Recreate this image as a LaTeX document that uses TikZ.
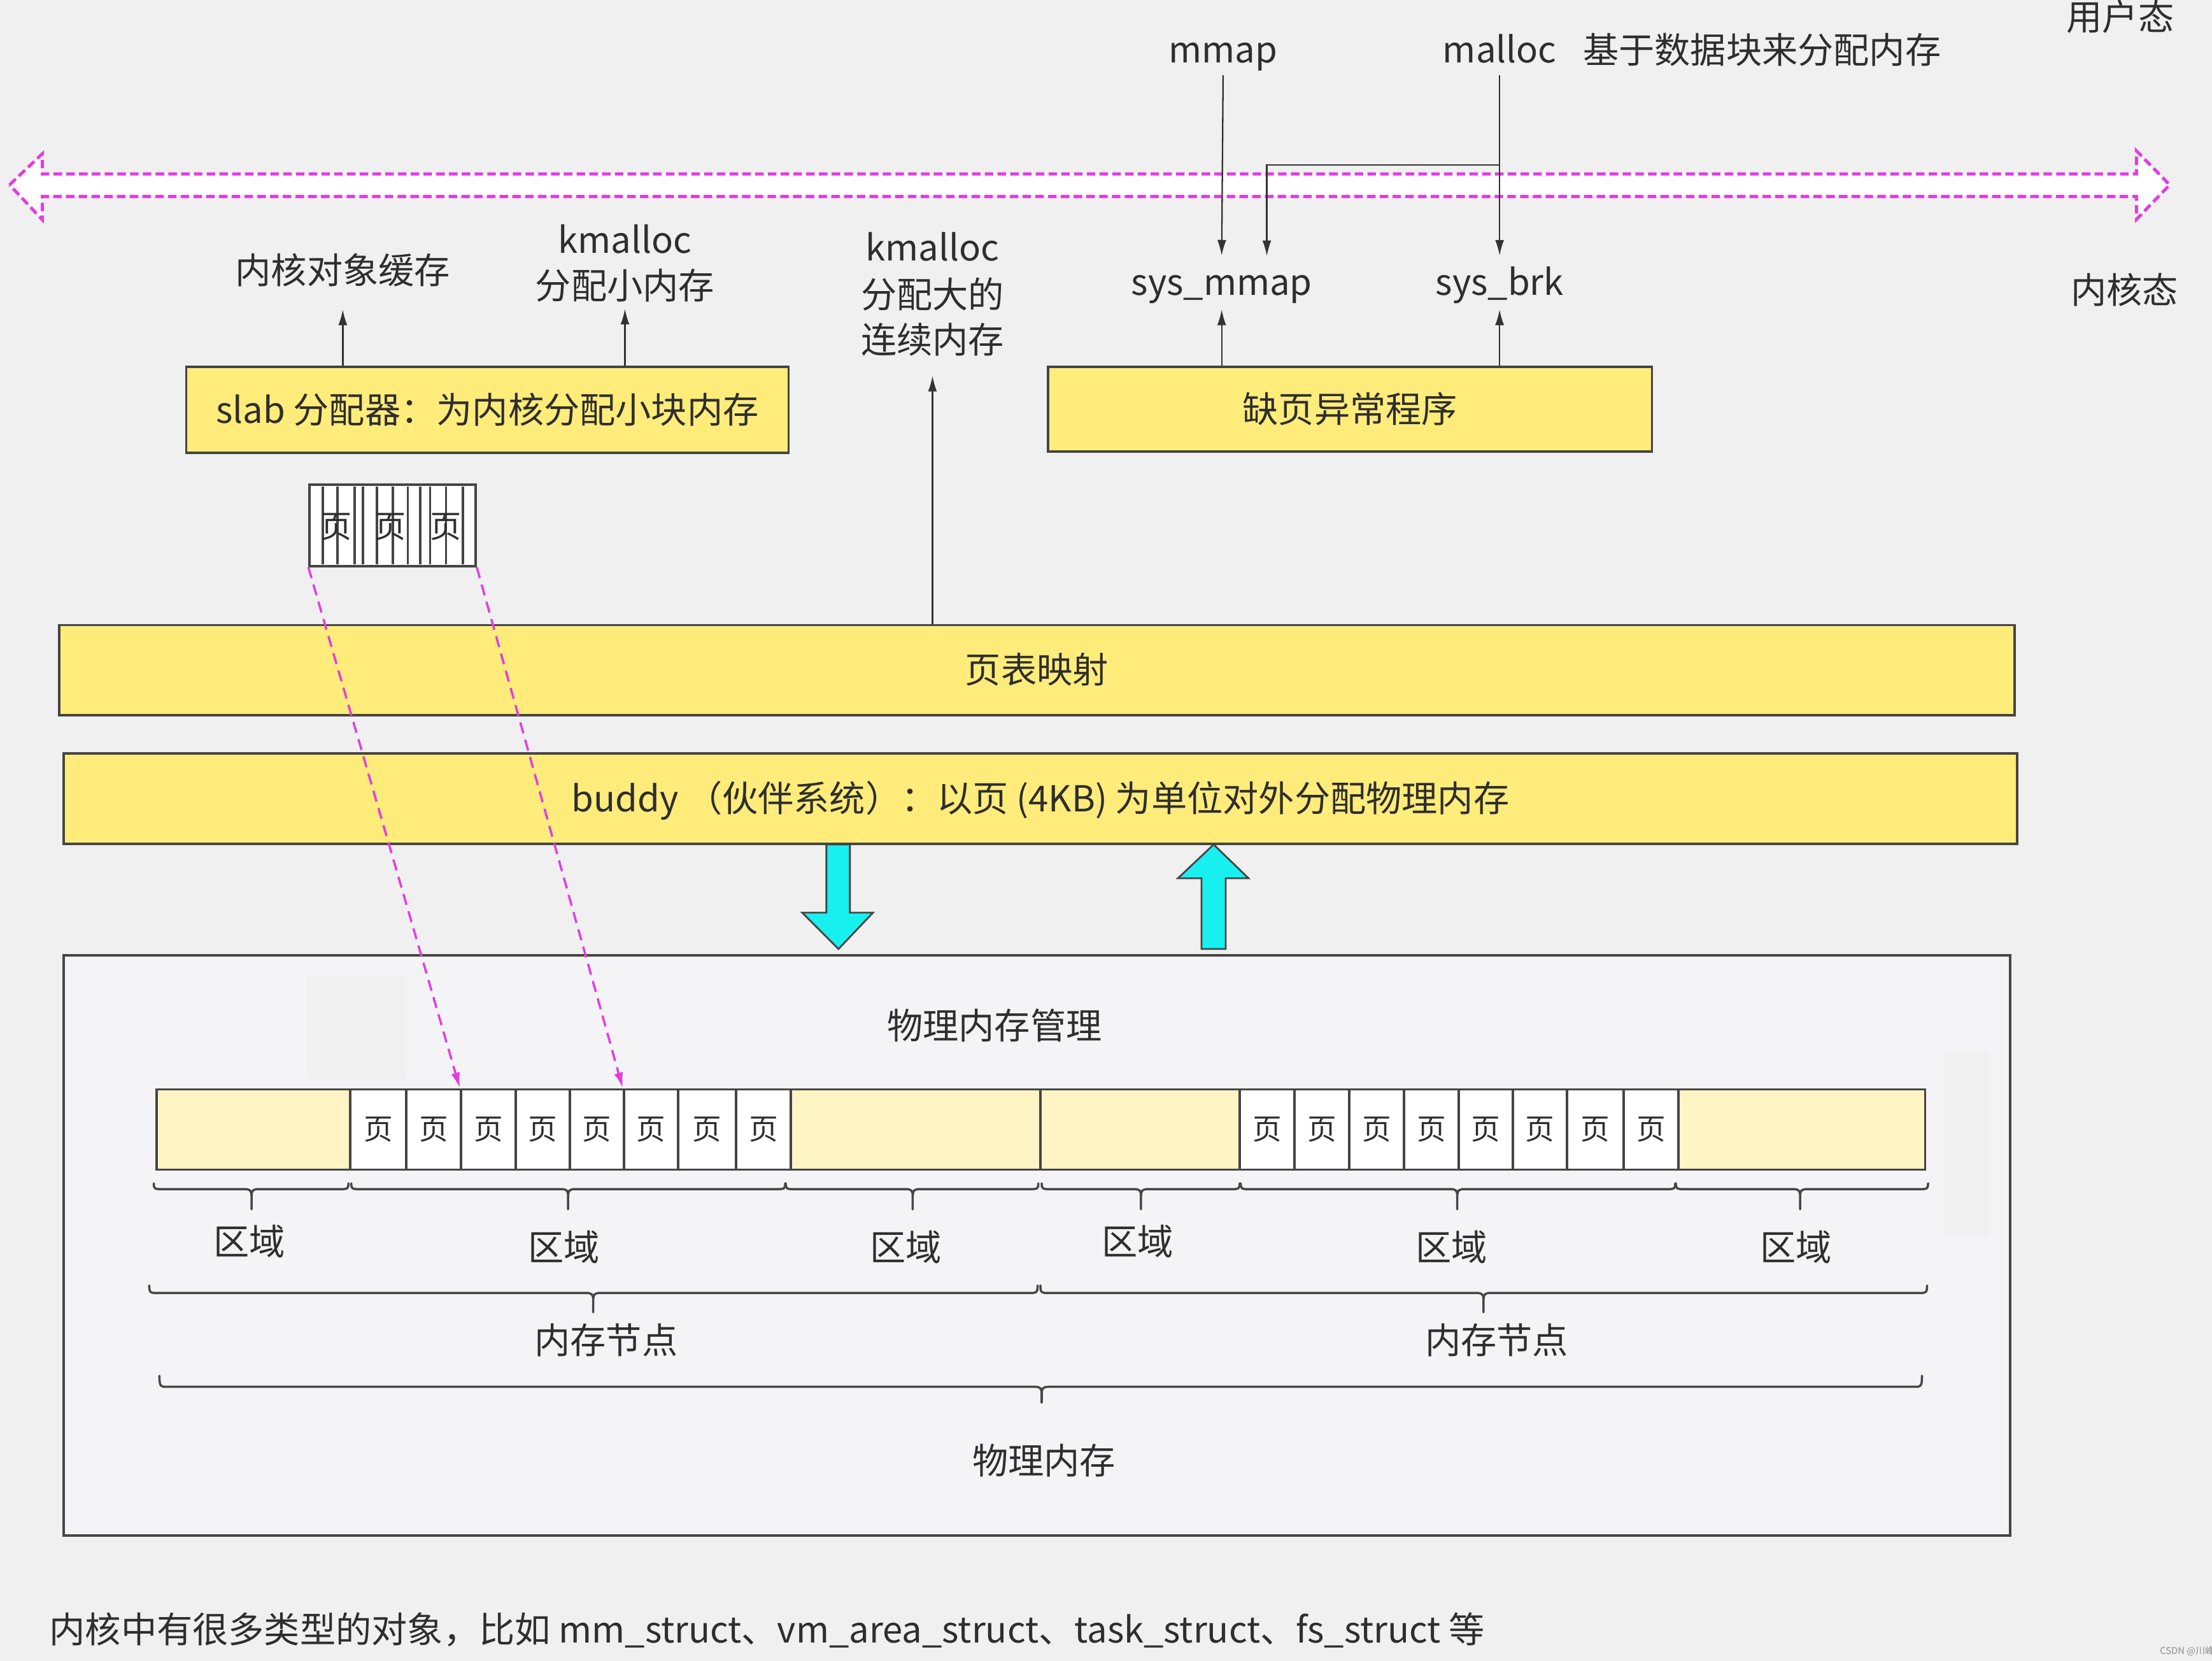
\documentclass[tikz,border=0pt]{standalone}
\usepackage{fontspec}
\setmainfont{Noto Sans CJK SC}
\usetikzlibrary{arrows.meta,calc}
\definecolor{bgc}{HTML}{F0F0F0}
\definecolor{panelc}{HTML}{F4F4F6}
\definecolor{artc}{HTML}{F0F0F1}
\definecolor{yel}{HTML}{FFEC7A}
\definecolor{lyel}{HTML}{FFF5C4}
\definecolor{bd}{HTML}{454545}
\definecolor{tc}{HTML}{2E2E2E}
\definecolor{lc}{HTML}{333333}
\definecolor{mag}{HTML}{E23CE2}
\definecolor{cyn}{HTML}{18F0F0}
\newcommand\mybrace[6]{%
  \draw[brc] (#1,#4) .. controls (#1,#5) and (#1+1,#5) .. (#1+5,#5) -- (#3-5,#5)
     .. controls (#3-1,#5) and (#3,#5+1) .. (#3,#5+5) -- (#3,#6)
     (#3,#5+5) .. controls (#3,#5+1) and (#3+1,#5) .. (#3+5,#5) -- (#2-5,#5)
     .. controls (#2-1,#5) and (#2,#5) .. (#2,#4);}
\begin{document}
\begin{tikzpicture}[x=0.022156cm,y=-0.022156cm,
  txt/.style={inner sep=0pt,text=tc,font=\fontsize{16pt}{19pt}\selectfont,text height=12.8pt,text depth=1.1pt},
  ybox/.style={txt,draw=bd,fill=yel,line width=1.1pt},
  cell/.style={draw=bd,fill=white,line width=1pt,inner sep=0pt,text=tc,font=\fontsize{13pt}{15pt}\selectfont,minimum height={57*0.6304pt}},
  yseg/.style={draw=bd,fill=lyel,line width=1pt,inner sep=0pt,minimum height={57*0.6304pt}},
  conn/.style={draw=lc,line width=0.65pt},
  arr/.style={conn,-{Latex[length=7pt,width=4pt]}},
  marr/.style={draw=mag,line width=1pt,dash pattern=on 5pt off 3pt,-{Latex[length=7pt,width=4pt]}},
  brc/.style={draw=lc!90,line width=1pt,line cap=round},
  bigarrow/.style={fill=cyn,draw=bd,line width=0.8pt,line join=miter}]
\fill[bgc] (0,0) rectangle (1568,1177);
\useasboundingbox (0,0) rectangle (1568,1177);

% user / kernel boundary arrow
\draw[draw=mag,fill=white,line width=1.4pt,dash pattern=on 3.8pt off 1.9pt,line join=miter]
  (6.8,131) -- (30,109) -- (30,123.3) -- (1514.5,123.3) -- (1514.5,107) -- (1538,131)
  -- (1514.5,155.4) -- (1514.5,139.3) -- (30,139.3) -- (30,155.7) -- cycle;

% top labels
\node[txt] (user) at (1503,12) {用户态};
\node[txt] (kern) at (1506,206) {内核态};
\node[txt] (mmap) at (867,35) {mmap};
\node[txt] (malloc) at (1063,35) {malloc};
\node[txt] (mallocd) at (1249,35.5) {基于数据块来分配内存};
\node[txt] (sysmmap) at (866,200) {sys\_mmap};
\node[txt] (sysbrk) at (1063,200) {sys\_brk};

\node[txt] (cache) at (243,192) {内核对象缓存};
\node[txt] (ks1) at (443,170) {kmalloc};
\node[txt] (ks2) at (443,202.5) {分配小内存};
\node[txt] (kb1) at (661,175.5) {kmalloc};
\node[txt] (kb2) at (661,209) {分配大的};
\node[txt] (kb3) at (661,241) {连续内存};

% boxes
\node[ybox,minimum width={427*0.6304pt},minimum height={61*0.6304pt}] (slab) at (345.5,290.5) {slab 分配器：为内核分配小块内存};
\node[ybox,minimum width={428*0.6304pt},minimum height={60*0.6304pt}] (fault) at (957,290) {缺页异常程序};
\node[ybox,minimum width={1386*0.6304pt},minimum height={64*0.6304pt}] (pt) at (735,475) {页表映射};
\node[ybox,minimum width={1385*0.6304pt},minimum height={64*0.6304pt}] (buddy) at (737.5,566) {buddy （伙伴系统）：以页 (4KB) 为单位对外分配物理内存};

% small compressed page box
\node[draw=bd,fill=white,line width=1pt,inner sep=0pt,minimum width={117.8*0.6304pt},minimum height={57.7*0.6304pt}] (sp) at (278.3,372.4) {};
\foreach \xx in {228.8,239.2,251.4,257.3,267.2,278.5,288.9,297.9,304.7,316,328.1}
  \draw[draw=bd,line width=0.9pt] (\xx,345) -- (\xx,400);
\foreach \xx/\nm in {238.3/spa,276.7/spb,316/spc}
  \node[inner sep=0pt,text=tc,font=\fontsize{14pt}{16pt}\selectfont] (\nm) at (\xx,373.5) {页};

% connectors top
\draw[arr] ($(mmap.south)+(0,7)$) -- ($(sysmmap.north)+(0,-7.5)$);
\draw[arr] ($(malloc.south)+(0,7)$) -- ($(sysbrk.north)+(0,-7.5)$);
\coordinate (brA) at (1063,117);
\coordinate (brB) at (898,181.5);
\draw[arr] (brA) -| (brB);
\draw[arr] (fault.north -| sysmmap) -- ($(sysmmap.south)+(0,8)$);
\draw[arr] (fault.north -| sysbrk) -- ($(sysbrk.south)+(0,8)$);
\draw[arr] (slab.north -| cache) -- ($(cache.south)+(0,16)$);
\draw[arr] (slab.north -| ks2) -- ($(ks2.south)+(0,5)$);
\draw[arr] (pt.north -| kb3) -- ($(kb3.south)+(0,14)$);

% physical memory panel
\node[draw=bd,fill=panelc,line width=1.1pt,minimum width={1380*0.6304pt},minimum height={411*0.6304pt}] (panel) at (735,882.5) {};
\fill[artc] (218,692) rectangle (288,765);
\fill[artc] (1378,745) rectangle (1410,875);
\node[txt] (pmm) at (705,727) {物理内存管理};

% cyan arrows
\draw[bigarrow] (585.8,598.5) -- (602.5,598.5) -- (602.5,646.8) -- (618.8,646.8) -- (594.4,672.5) -- (568.7,646.8) -- (585.8,646.8) -- cycle;
\draw[bigarrow] (860.3,598.5) -- (885,622.4) -- (868.8,622.4) -- (868.8,672.5) -- (851.7,672.5) -- (851.7,622.4) -- (835,622.4) -- cycle;

% memory bar
\foreach \a/\b/\nm in {111/248.2/ya,560.6/737.6/yb,737.6/878.8/yc,1189.7/1364.6/yd}
  \node[yseg,minimum width={(\b-\a)*0.6304pt}] (\nm) at ({(\a+\b)/2},800.5) {};
\foreach \a/\b [count=\i] in {248.2/288,288/326.8,326.8/365.6,365.6/404,404/442.3,442.3/480.7,480.7/521.8,521.8/560.6}
  \node[cell,minimum width={(\b-\a)*0.6304pt}] (c\i) at ({(\a+\b)/2},800.5) {页};
\foreach \a/\b [count=\i] in {878.8/917.6,917.6/956.5,956.5/995.2,995.2/1034,1034/1072.4,1072.4/1110.8,1110.8/1151,1151/1189.7}
  \node[cell,minimum width={(\b-\a)*0.6304pt}] (d\i) at ({(\a+\b)/2},800.5) {页};

% braces
\mybrace{109}{247}{178.3}{838.6}{842.7}{857}
\mybrace{249}{556.6}{402.7}{838.6}{842.7}{857}
\mybrace{557}{736}{647}{838.6}{842.7}{857}
\mybrace{738.4}{878.7}{808.8}{838.6}{842.7}{857}
\mybrace{879.5}{1187.5}{1033}{838.6}{842.7}{857}
\mybrace{1188}{1366.7}{1276}{838.6}{842.7}{857}
\mybrace{105.8}{735.5}{420.5}{911}{916.3}{930}
\mybrace{737.5}{1366}{1051.6}{911}{916.3}{930}
\mybrace{113}{1362.4}{738.4}{975}{982.8}{994}

\node[txt] (z1) at (176.6,880) {区域};
\node[txt] (z2) at (399.8,884) {区域};
\node[txt] (z3) at (642,884) {区域};
\node[txt] (z4) at (806.5,880) {区域};
\node[txt] (z5) at (1029,884) {区域};
\node[txt] (z6) at (1273,884) {区域};
\node[txt] (n1) at (429.6,950) {内存节点};
\node[txt] (n2) at (1061,950) {内存节点};
\node[txt] (pm) at (740,1035.5) {物理内存};

% slab pages -> buddy pages
\draw[marr] (sp.south west) -- (c3.north west);
\draw[marr] (sp.south east) -- (c6.north west);

% footnote
\node[txt,anchor=west] (note) at (34.7,1155) {内核中有很多类型的对象，比如 mm\_struct、vm\_area\_struct、task\_struct、fs\_struct 等};
\node[inner sep=0pt,text=black!45,font=\fontsize{4.2pt}{5pt}\selectfont,anchor=west] (wm) at (1530.8,1170.3) {CSDN @川峰};
\end{tikzpicture}
\end{document}
